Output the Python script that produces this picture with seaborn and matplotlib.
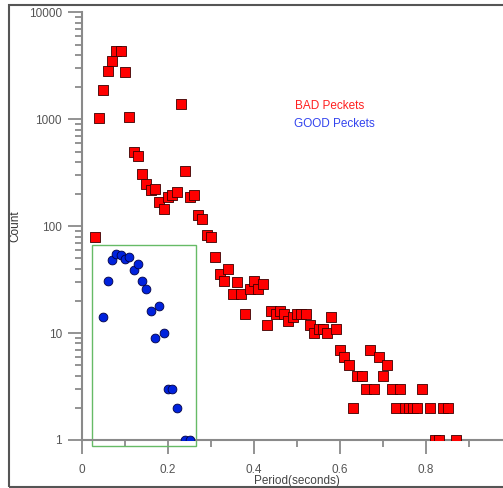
import pandas as pd
import seaborn as sns
import matplotlib
matplotlib.use("Agg")
import matplotlib.pyplot as plt
from matplotlib.patches import Rectangle
from matplotlib.ticker import FixedLocator, FixedFormatter, NullFormatter

# Bad packets: period (s) vs count
bad_period = [
    0.03, 0.04, 0.05, 0.06, 0.07, 0.08, 0.09, 0.10, 0.11, 0.12,
    0.13, 0.14, 0.15, 0.16, 0.17, 0.18, 0.19, 0.20, 0.21, 0.22,
    0.23, 0.24, 0.25, 0.26, 0.27, 0.28, 0.29, 0.30, 0.31, 0.32,
    0.33, 0.34, 0.35, 0.36, 0.37, 0.38, 0.39, 0.40, 0.41, 0.42,
    0.43, 0.44, 0.45, 0.46, 0.47, 0.48, 0.49, 0.50, 0.51, 0.52,
    0.53, 0.54, 0.55, 0.56, 0.57, 0.58, 0.59, 0.60, 0.61, 0.62,
    0.63, 0.64, 0.65, 0.66, 0.67, 0.68, 0.69, 0.70, 0.71, 0.72,
    0.73, 0.74, 0.75, 0.76, 0.77, 0.78, 0.79, 0.81, 0.82, 0.83,
    0.84, 0.85, 0.87,
]
bad_count = [
    80, 1020, 1900, 2850, 3550, 4400, 4320, 2760, 1050, 500,
    450, 310, 246, 218, 222, 170, 145, 186, 195, 209,
    1390, 332, 187, 196, 127, 116, 83, 79, 52, 36,
    31, 40, 23, 30, 23, 15, 26, 31, 26, 29,
    12, 16, 15, 16, 15, 13, 14, 15, 15, 15,
    12, 10, 11, 11, 10, 14, 11, 7, 6, 5,
    2, 4, 4, 3, 7, 3, 6, 4, 5, 3,
    2, 3, 2, 2, 2, 2, 3, 2, 1, 1,
    2, 2, 1,
]

# Good packets
good_period = [
    0.05, 0.06, 0.07, 0.08, 0.09, 0.10, 0.11, 0.12, 0.13, 0.14,
    0.15, 0.16, 0.17, 0.18, 0.19, 0.20, 0.21, 0.22, 0.24, 0.25,
]
good_count = [
    14, 31, 48, 55, 54, 49, 52, 39, 44, 31,
    26, 16, 9, 18, 10, 3, 3, 2, 1, 1,
]

x_major = [0, 0.2, 0.4, 0.6, 0.8]
x_labels = ["0", "0.2", "0.4", "0.6", "0.8"]
y_major = [1, 10, 100, 1000, 10000]
y_labels = ["1", "10", "100", "1000", "10000"]

bad_df = pd.DataFrame({"period": bad_period, "count": bad_count})
good_df = pd.DataFrame({"period": good_period, "count": good_count})

sns.set_style("white")
plt.rcParams["font.family"] = ["Liberation Sans", "DejaVu Sans"]

fig = plt.figure(figsize=(5.03, 4.88), dpi=100)
ax = fig.add_axes([0.163, 0.0984, 0.855, 0.876])

sns.scatterplot(data=bad_df, x="period", y="count", marker="s", s=44,
                color="#ff0000", edgecolor="#3a0000", linewidth=0.6, ax=ax, zorder=3)
sns.scatterplot(data=good_df, x="period", y="count", marker="o", s=40,
                color="#0022dd", edgecolor="#000044", linewidth=0.6, ax=ax, zorder=3)

ax.set_yscale("log")
ax.set_xlim(0, 1.0)
ax.set_ylim(1, 10000)

# green box round the good packets
ax.add_patch(Rectangle((0.0225, 0.88), 0.2425, 66.4 - 0.88, fill=False,
                       edgecolor="#66bb66", linewidth=1.0, zorder=2, clip_on=False))

ax.text(0.495, 0.782, "BAD Peckets", transform=ax.transAxes, color="#ff2020",
        fontsize=8.5, va="center", ha="left")
ax.text(0.493, 0.738, "GOOD Peckets", transform=ax.transAxes, color="#3344ee",
        fontsize=8.5, va="center", ha="left")

# axes styling
for side in ["top", "right"]:
    ax.spines[side].set_visible(False)
for side in ["left", "bottom"]:
    ax.spines[side].set_color("#8a8a8a")
    ax.spines[side].set_linewidth(1.5)

ax.xaxis.set_major_locator(FixedLocator(x_major))
ax.xaxis.set_major_formatter(FixedFormatter(x_labels))
ax.xaxis.set_minor_locator(FixedLocator([0.1, 0.3, 0.5, 0.7, 0.9]))
ax.yaxis.set_major_locator(FixedLocator(y_major))
ax.yaxis.set_major_formatter(FixedFormatter(y_labels))
ax.yaxis.set_minor_locator(FixedLocator([m * d for d in [1, 10, 100, 1000] for m in range(2, 10)]))
ax.yaxis.set_minor_formatter(NullFormatter())

ax.tick_params(which="major", direction="out", length=10, width=1.3, color="#8a8a8a",
               labelsize=8.5, labelcolor="#555555")
ax.tick_params(which="minor", direction="out", length=5, width=1.3, color="#8a8a8a")
ax.tick_params(axis="y", which="both", left=True, pad=4.5)
ax.tick_params(axis="x", which="both", bottom=True, pad=7)

ax.set_xlabel("Period(seconds)", fontsize=8.5, color="#444444")
ax.set_ylabel("Count", fontsize=8.5, color="#333333", va="center")
ax.xaxis.set_label_coords(0.5, -0.083)
ax.yaxis.set_label_coords(-0.156, 0.5)

# outer frame
fig.patches.append(Rectangle((9 / 503, 1 / 488), 1.0, (483 - 1) / 488,
                             transform=fig.transFigure, fill=False,
                             edgecolor="#555555", linewidth=1.5))

fig.savefig("out.png", dpi=100)
